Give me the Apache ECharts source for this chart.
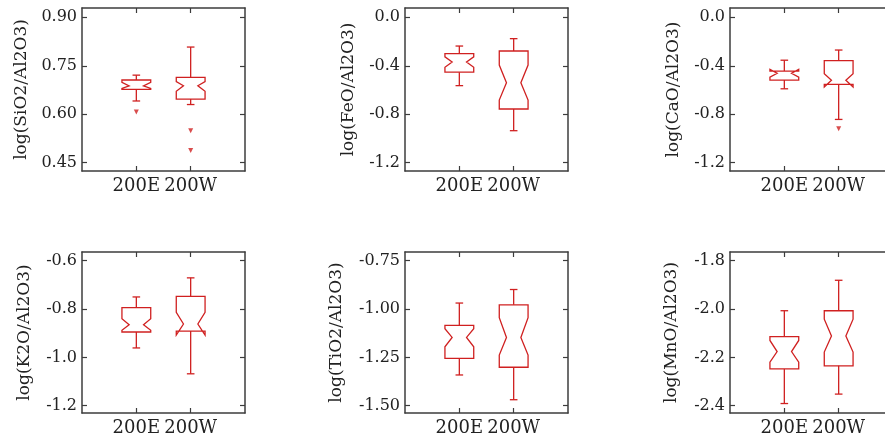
<!DOCTYPE html>
<html>
<head>
<meta charset="utf-8">
<script src="https://cdn.jsdelivr.net/npm/echarts@6/dist/echarts.min.js"></script>
<style>
html,body{margin:0;padding:0;background:#fff;}
#chart{width:885px;height:442px;}
</style>
</head>
<body>
<div id="chart"></div>
<script>
// Categories (x axis)
const categories = ['200E', '200W'];

// Box statistics per category, order:
// [whiskerLow, q1, notchLow, median, notchHigh, q3, whiskerHigh]
const sio2Stats = [
  [0.641, 0.677, 0.680, 0.688, 0.699, 0.706, 0.721],
  [0.630, 0.647, 0.671, 0.688, 0.701, 0.714, 0.808]
];
const sio2Outliers = [[0.607], [0.549, 0.488]];

const feoStats = [
  [-0.564, -0.453, -0.412, -0.369, -0.326, -0.300, -0.237],
  [-0.936, -0.757, -0.683, -0.540, -0.394, -0.278, -0.176]
];
const feoOutliers = [[], []];

const caoStats = [
  [-0.590, -0.518, -0.494, -0.462, -0.430, -0.444, -0.354],
  [-0.843, -0.553, -0.575, -0.520, -0.465, -0.358, -0.270]
];
const caoOutliers = [[], [-0.920]];

const k2oStats = [
  [-0.961, -0.895, -0.888, -0.865, -0.840, -0.794, -0.750],
  [-1.068, -0.891, -0.908, -0.862, -0.814, -0.748, -0.671]
];
const k2oOutliers = [[], []];

const tio2Stats = [
  [-1.341, -1.255, -1.195, -1.147, -1.102, -1.084, -0.969],
  [-1.469, -1.301, -1.238, -1.147, -1.045, -0.978, -0.899]
];
const tio2Outliers = [[], []];

const mnoStats = [
  [-2.391, -2.248, -2.220, -2.176, -2.130, -2.114, -2.007],
  [-2.352, -2.235, -2.178, -2.112, -2.042, -2.007, -1.881]
];
const mnoOutliers = [[], []];

// Y tick labels per panel
const sio2Ticks = ['0.45', '0.60', '0.75', '0.90'];
const feoTicks = ['-1.2', '-0.8', '-0.4', '0.0'];
const caoTicks = ['-1.2', '-0.8', '-0.4', '0.0'];
const k2oTicks = ['-1.2', '-1.0', '-0.8', '-0.6'];
const tio2Ticks = ['-1.50', '-1.25', '-1.00', '-0.75'];
const mnoTicks = ['-2.4', '-2.2', '-2.0', '-1.8'];

// Axis titles
const yNames = ['log(SiO2/Al2O3)', 'log(FeO/Al2O3)', 'log(CaO/Al2O3)',
                'log(K2O/Al2O3)', 'log(TiO2/Al2O3)', 'log(MnO/Al2O3)'];

const panels = [
  {stats: sio2Stats, out: sio2Outliers, ticks: sio2Ticks, min: 0.4242, max: 0.9289, left: 82, top: 8, h: 163, gap: 52},
  {stats: feoStats, out: feoOutliers, ticks: feoTicks, min: -1.2688, max: 0.0771, left: 405, top: 8, h: 163, gap: 48},
  {stats: caoStats, out: caoOutliers, ticks: caoTicks, min: -1.2688, max: 0.0771, left: 730, top: 8, h: 163, gap: 48},
  {stats: k2oStats, out: k2oOutliers, ticks: k2oTicks, min: -1.2302, max: -0.564, left: 82, top: 252, h: 161, gap: 49},
  {stats: tio2Stats, out: tio2Outliers, ticks: tio2Ticks, min: -1.5377, max: -0.705, left: 405, top: 252, h: 161, gap: 60},
  {stats: mnoStats, out: mnoOutliers, ticks: mnoTicks, min: -2.4302, max: -1.764, left: 730, top: 252, h: 161, gap: 50}
];

const RED = '#d02020';
const FRAME = '#3c3c3c';
const FONT = 'DejaVu Serif';
const catPos = categories.map((c, i) => i + 1);

const grid = [], xAxis = [], yAxis = [], series = [];

panels.forEach((p, k) => {
  grid.push({left: p.left, top: p.top, width: 163, height: p.h, show: false, outerBoundsMode: 'none', containLabel: false});
  const tickVals = p.ticks.map(Number);
  const axisLine = {show: true, onZero: false, lineStyle: {color: FRAME, width: 1.5}};
  const tick = (vals) => ({show: true, inside: true, length: 5, customValues: vals, lineStyle: {color: FRAME, width: 1.2}});
  // bottom x
  xAxis.push({
    gridIndex: k, type: 'value', min: 0, max: 3, position: 'bottom',
    axisLine, axisTick: tick(catPos), splitLine: {show: false},
    axisLabel: {customValues: catPos, formatter: v => categories[Math.round(v) - 1] || '', margin: 6,
      fontFamily: FONT, fontSize: 18, color: '#222'}
  });
  // top x
  xAxis.push({
    gridIndex: k, type: 'value', min: 0, max: 3, position: 'top',
    axisLine, axisTick: tick(catPos), splitLine: {show: false}, axisLabel: {show: false}
  });
  // left y
  yAxis.push({
    gridIndex: k, type: 'value', min: p.min, max: p.max, position: 'left',
    axisLine, axisTick: tick(tickVals), splitLine: {show: false},
    axisLabel: {customValues: tickVals, margin: 5, fontFamily: FONT, fontSize: 16, color: '#222',
      formatter: v => { const i = tickVals.findIndex(t => Math.abs(t - v) < 1e-9); return i >= 0 ? p.ticks[i] : ''; }},
    name: yNames[k], nameLocation: 'middle', nameGap: p.gap,
    nameTextStyle: {fontFamily: FONT, fontSize: 17, color: '#222'}
  });
  // right y
  yAxis.push({
    gridIndex: k, type: 'value', min: p.min, max: p.max, position: 'right',
    axisLine, axisTick: tick(tickVals), splitLine: {show: false}, axisLabel: {show: false}
  });

  const xi = 2 * k, yi = 2 * k;
  const data = p.stats.map((s, i) => [i + 1].concat(s));
  series.push({
    type: 'custom', xAxisIndex: xi, yAxisIndex: yi,
    data: data,
    encode: {x: 0, y: [1, 2, 3, 4, 5, 6, 7]},
    renderItem: (params, api) => {
      const x = api.value(0);
      const wlo = api.value(1), q1 = api.value(2), nlo = api.value(3), med = api.value(4),
            nhi = api.value(5), q3 = api.value(6), whi = api.value(7);
      const hw = 0.265, cw = 0.07;
      const P = (dx, v) => api.coord([x + dx, v]);
      const style = {stroke: RED, lineWidth: 1.3, fill: null};
      const outline = [P(-hw, q1), P(-hw, nlo), P(-hw / 2, med), P(-hw, nhi), P(-hw, q3),
                       P(hw, q3), P(hw, nhi), P(hw / 2, med), P(hw, nlo), P(hw, q1)];
      const line = (a, b) => ({type: 'line', shape: {x1: a[0], y1: a[1], x2: b[0], y2: b[1]}, style});
      return {
        type: 'group',
        children: [
          {type: 'polygon', shape: {points: outline}, style},
          line(P(0, q3), P(0, whi)),
          line(P(-cw, whi), P(cw, whi)),
          line(P(0, q1), P(0, wlo)),
          line(P(-cw, wlo), P(cw, wlo))
        ]
      };
    }
  });
  const outData = [];
  p.out.forEach((arr, i) => arr.forEach(v => outData.push([i + 1, v])));
  series.push({
    type: 'scatter', xAxisIndex: xi, yAxisIndex: yi, data: outData,
    symbol: 'path://M0,0 L10,0 L5,9 Z', symbolSize: [5, 5],
    itemStyle: {color: RED}, silent: true
  });
});

const chart = echarts.init(document.getElementById('chart'), null, {renderer: 'canvas'});
chart.setOption({
  animation: false,
  backgroundColor: '#fff',
  grid, xAxis, yAxis, series
});
</script>
</body>
</html>
